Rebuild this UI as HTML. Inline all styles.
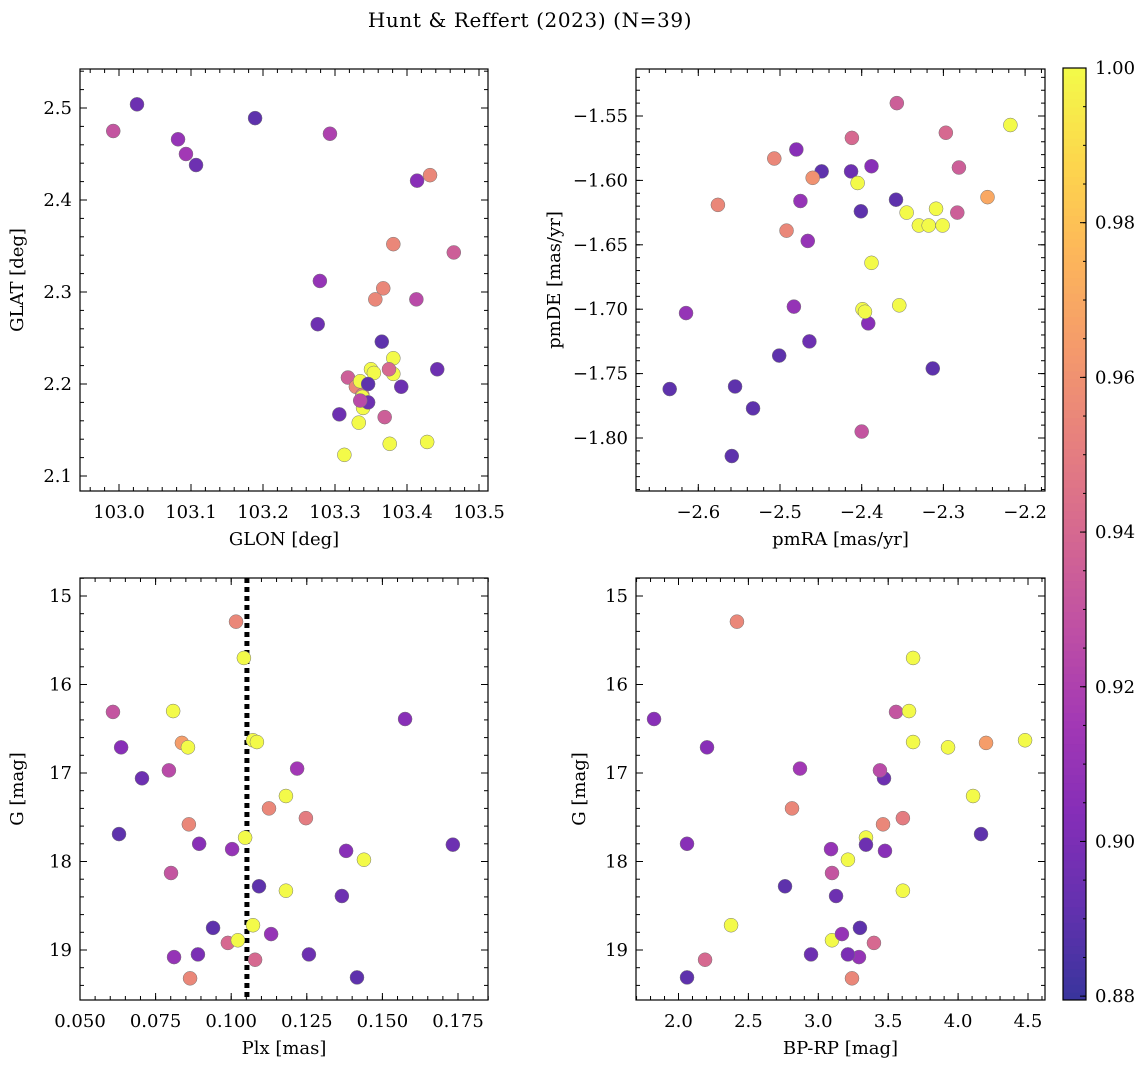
<!DOCTYPE html>
<html><head><meta charset="utf-8"><style>
body{margin:0;background:#fff;}
svg{display:block;font-family:"DejaVu Serif","Liberation Serif",serif;font-stretch:normal;}
</style></head><body>
<svg id="fig" width="1148" height="1068" viewBox="0 0 1148 1068" xmlns="http://www.w3.org/2000/svg">
<text x="530" y="27" font-size="20" letter-spacing="0.6" text-anchor="middle">Hunt &amp; Reffert (2023) (N=39)</text>
</svg>
<script>
// ---- data: top-left (GLON vs GLAT) ----
const glon=[102.992,103.025,103.082,103.093,103.107,103.189,103.293,103.414,103.432,103.381,103.465,103.279,103.276,103.367,103.356,103.413,103.365,103.318,103.329,103.338,103.350,103.354,103.381,103.381,103.335,103.346,103.338,103.339,103.346,103.375,103.392,103.442,103.335,103.306,103.369,103.333,103.376,103.428,103.313];
const glat=[2.475,2.504,2.466,2.450,2.438,2.489,2.472,2.421,2.427,2.352,2.343,2.312,2.265,2.304,2.292,2.292,2.246,2.207,2.197,2.188,2.216,2.212,2.228,2.211,2.203,2.200,2.186,2.174,2.180,2.216,2.197,2.216,2.182,2.167,2.164,2.158,2.135,2.137,2.123];
const probPos=[0.93,0.895,0.91,0.915,0.895,0.89,0.92,0.905,0.955,0.955,0.935,0.91,0.895,0.955,0.955,0.925,0.89,0.935,0.955,0.95,1,1,1,1,1,0.89,1,1,0.895,0.94,0.895,0.895,0.925,0.895,0.935,1,1,1,1];
// ---- data: top-right (pmRA vs pmDE) ----
const pmra=[-2.357,-2.412,-2.297,-2.218,-2.507,-2.480,-2.449,-2.413,-2.388,-2.405,-2.460,-2.576,-2.475,-2.358,-2.401,-2.345,-2.309,-2.330,-2.318,-2.301,-2.246,-2.283,-2.281,-2.466,-2.492,-2.388,-2.354,-2.399,-2.483,-2.392,-2.615,-2.464,-2.501,-2.635,-2.555,-2.313,-2.533,-2.400,-2.559,-2.396];
const pmde=[-1.540,-1.567,-1.563,-1.557,-1.583,-1.576,-1.593,-1.593,-1.589,-1.602,-1.598,-1.619,-1.616,-1.615,-1.624,-1.625,-1.622,-1.635,-1.635,-1.635,-1.613,-1.625,-1.590,-1.647,-1.639,-1.664,-1.697,-1.700,-1.698,-1.711,-1.703,-1.725,-1.736,-1.762,-1.760,-1.746,-1.777,-1.795,-1.814,-1.702];
const probPm=[0.935,0.94,0.94,1,0.955,0.905,0.89,0.895,0.905,1,0.96,0.955,0.91,0.89,0.89,1,1,1,1,1,0.97,0.935,0.935,0.91,0.955,1,1,1,0.91,0.905,0.91,0.895,0.89,0.89,0.89,0.89,0.89,0.93,0.89,1];
// ---- data: bottom (Plx, BP-RP vs G) ----
const plx=[0.0609,0.0636,0.0705,0.0629,0.0808,0.0837,0.0857,0.0794,0.0860,0.0894,0.0801,0.0940,0.0811,0.0890,0.0864,0.1016,0.1042,0.1072,0.1085,0.1046,0.1003,0.1092,0.0989,0.1022,0.1072,0.1079,0.1125,0.1132,0.1181,0.1181,0.1218,0.1247,0.1257,0.1380,0.1366,0.1416,0.1439,0.1575,0.1733];
const gmag=[16.31,16.71,17.06,17.69,16.30,16.66,16.71,16.97,17.58,17.80,18.13,18.75,19.08,19.05,19.32,15.29,15.70,16.63,16.65,17.73,17.86,18.28,18.92,18.89,18.72,19.11,17.40,18.82,18.33,17.26,16.95,17.51,19.05,17.88,18.39,19.31,17.98,16.39,17.81];
const bprp=[3.556,2.204,3.470,4.164,3.649,4.200,3.928,3.441,3.463,2.061,3.098,3.298,3.291,3.212,3.241,2.418,3.678,4.479,3.678,3.341,3.091,2.762,3.398,3.098,2.376,2.190,2.812,3.169,3.605,4.107,2.869,3.605,2.948,3.477,3.127,2.061,3.212,1.825,3.341];
const probPh=[0.93,0.905,0.895,0.89,1,0.965,1,0.925,0.955,0.905,0.93,0.89,0.91,0.9,0.955,0.955,1,1,1,1,0.91,0.89,0.94,1,1,0.94,0.955,0.91,1,1,0.915,0.95,0.895,0.905,0.895,0.89,1,0.905,0.895];
const plxMean=0.1052;
const cbTicks=[0.88,0.90,0.92,0.94,0.96,0.98,1.00];

const FS=18;
const NS="http://www.w3.org/2000/svg";
const svg=document.getElementById('fig');
function mk(tag,attrs,parent){const e=document.createElementNS(NS,tag);for(const k in attrs)e.setAttribute(k,attrs[k]);(parent||svg).appendChild(e);return e;}
const stops=["#0d0887","#41049d","#6a00a8","#8f0da4","#b12a90","#cc4778","#e16462","#f2844b","#fca636","#fcce25","#f0f921"];
function hex(h){return [1,3,5].map(i=>parseInt(h.substr(i,2),16));}
const CMIN=0.8795,CMAX=1.0;
function cmap(v){let t=(v-CMIN)/(CMAX-CMIN);t=Math.max(0,Math.min(1,t));const p=t*10,i=Math.min(9,Math.floor(p)),f=p-i;const a=hex(stops[i]),b=hex(stops[i+1]);
 const c=a.map((x,k)=>Math.round((x+(b[k]-x)*f)*0.82+255*0.18));return `rgb(${c[0]},${c[1]},${c[2]})`;}

function panel(o){
 const g=mk('g',{});
 
 
 const sx=v=>o.x0+(v-o.xd[0])/(o.xd[1]-o.xd[0])*(o.x1-o.x0);
 const sy=v=>o.y0+(v-o.yd[0])/(o.yd[1]-o.yd[0])*(o.y1-o.y0);
 const ticks=(g2,axis,vals,len,lab,fmt)=>{vals.forEach(v=>{
  if(axis==='x'){const x=sx(v);if(x<o.x0-0.5||x>o.x1+0.5)return;
   mk('line',{x1:x,x2:x,y1:o.y1,y2:o.y1-len,stroke:'#000','stroke-width':1},g2);
   mk('line',{x1:x,x2:x,y1:o.y0,y2:o.y0+len,stroke:'#000','stroke-width':1},g2);
   if(lab){const t=mk('text',{x:x,y:o.y1+27,'font-size':FS,'text-anchor':'middle'},g2);t.textContent=fmt(v);
    
    }}
  else{const y=sy(v);if(y<Math.min(o.y0,o.y1)-0.5||y>Math.max(o.y0,o.y1)+0.5)return;
   mk('line',{x1:o.x0,x2:o.x0+len,y1:y,y2:y,stroke:'#000','stroke-width':1},g2);
   mk('line',{x1:o.x1,x2:o.x1-len,y1:y,y2:y,stroke:'#000','stroke-width':1},g2);
   if(lab){const t=mk('text',{x:o.x0-8,y:y+6,'font-size':FS,'text-anchor':'end'},g2);t.textContent=fmt(v);
    
    }}
 });};
 const rng=(a,b,s)=>{const r=[];for(let v=a;v<=b+s*1e-6;v+=s)r.push(+v.toFixed(6));return r;};
 if(o.vline!==undefined){const l=mk('line',{x1:sx(o.vline),x2:sx(o.vline),y1:o.y0,y2:o.y1,stroke:'#000','stroke-width':5,'stroke-dasharray':'5,4'},g);
  
  }
 o.xs.forEach((xv,i)=>{const c=mk('circle',{cx:sx(xv),cy:sy(o.ys[i]),r:7,fill:cmap(o.cs[i]),stroke:'#777','stroke-width':0.5},g);
  
  });
 ticks(g,'x',rng(o.xm[0],o.xm[1],o.xm[2]),4,false);
 ticks(g,'x',rng(o.xt[0],o.xt[1],o.xt[2]),7,true,o.xf);
 ticks(g,'y',rng(o.ym[0],o.ym[1],o.ym[2]),4,false);
 ticks(g,'y',rng(o.yt[0],o.yt[1],o.yt[2]),7,true,o.yf);
 const fr=mk('rect',{x:o.x0,y:Math.min(o.y0,o.y1),width:o.x1-o.x0,height:Math.abs(o.y1-o.y0),fill:'none',stroke:'#000','stroke-width':1.2},g);
 
 
 const xl=mk('text',{x:(o.x0+o.x1)/2,y:o.y1+54,'font-size':FS,'text-anchor':'middle'},g);xl.textContent=o.xlab;
 
 
 const yx=o.ylx,ym=(o.y0+o.y1)/2;
 const yl=mk('text',{x:yx,y:ym,'font-size':FS,'text-anchor':'middle',transform:`rotate(-90 ${yx} ${ym})`},g);yl.textContent=o.ylab;
 
 
}
const minus=s=>s.replace('-','\u2212');
panel({name:'position-panel',x0:80,x1:488,y0:69,y1:491,
 xd:[103+(80-119)/720,103+(488-119)/720],yd:[2.5+(108-69)/920,2.5-(491-108)/920],
 xs:glon,ys:glat,cs:probPos,xt:[103.0,103.5,0.1],xm:[102.94,103.54,0.02],yt:[2.1,2.5,0.1],ym:[2.08,2.54,0.02],
 xf:v=>v.toFixed(1),yf:v=>v.toFixed(1),xlab:'GLON [deg]',ylab:'GLAT [deg]',ylx:23});
panel({name:'proper-motion-panel',x0:636,x1:1045,y0:69,y1:491,
 xd:[-2.6+(636-698.3)/817,-2.6+(1045-698.3)/817],yd:[-1.55+(116-69)/1288,-1.55-(491-116)/1288],
 xs:pmra,ys:pmde,cs:probPm,xt:[-2.6,-2.2,0.1],xm:[-2.68,-2.16,0.02],yt:[-1.8,-1.55,0.05],ym:[-1.84,-1.51,0.01],
 xf:v=>minus(v.toFixed(1)),yf:v=>minus(v.toFixed(2)),xlab:'pmRA [mas/yr]',ylab:'pmDE [mas/yr]',ylx:560});
panel({name:'parallax-panel',x0:80,x1:488,y0:578,y1:1000,
 xd:[0.05,0.05+408/3024],yd:[15-(596-578)/88.5,15+(1000-596)/88.5],
 xs:plx,ys:gmag,cs:probPh,xt:[0.05,0.175,0.025],xm:[0.05,0.185,0.005],yt:[15,19,1],ym:[14.8,19.6,0.2],
 xf:v=>v.toFixed(3),yf:v=>String(v),xlab:'Plx [mas]',ylab:'G [mag]',ylx:23,vline:plxMean});
panel({name:'cmd-panel',x0:636,x1:1045,y0:578,y1:1000,
 xd:[2+(636-678.5)/139.8,2+(1045-678.5)/139.8],yd:[15-(596-578)/88.5,15+(1000-596)/88.5],
 xs:bprp,ys:gmag,cs:probPh,xt:[2.0,4.5,0.5],xm:[1.7,4.7,0.1],yt:[15,19,1],ym:[14.8,19.6,0.2],
 xf:v=>v.toFixed(1),yf:v=>String(v),xlab:'BP-RP [mag]',ylab:'G [mag]',ylx:585});
(function(){
 const x0=1063,x1=1086,y0=68,y1=1000;
 const cb=mk('g',{});
 
 
 const N=120;
 for(let i=0;i<N;i++){const v=CMIN+(CMAX-CMIN)*(i+0.5)/N;const yb=y1-(i)*(y1-y0)/N;
  mk('rect',{x:x0,y:yb-(y1-y0)/N-0.5,width:x1-x0,height:(y1-y0)/N+1,fill:cmap(v)},cb);}
 const sy=v=>y1-(v-CMIN)/(CMAX-CMIN)*(y1-y0);
 for(let v=0.88;v<=1.0001;v+=0.005){const y=sy(v);mk('line',{x1:x1,x2:x1-3,y1:y,y2:y,stroke:'#000','stroke-width':1},cb);}
 cbTicks.forEach(v=>{const y=sy(v);mk('line',{x1:x1,x2:x1-6,y1:y,y2:y,stroke:'#000','stroke-width':1},cb);
  const t=mk('text',{x:x1+9,y:y+6,'font-size':FS},cb);t.textContent=v.toFixed(2);
  
  });
 mk('rect',{x:x0,y:y0,width:x1-x0,height:y1-y0,fill:'none',stroke:'#000','stroke-width':1.2},cb);
})();
</script>
</body></html>
